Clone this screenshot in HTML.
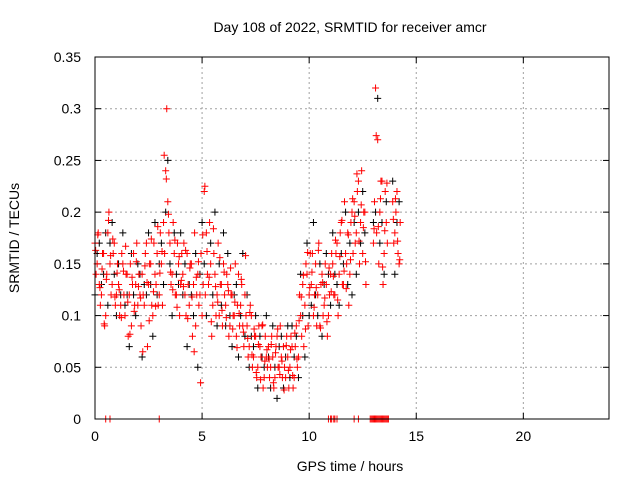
<!DOCTYPE html>
<html><head><meta charset="utf-8"><style>
body{margin:0;background:#fff}
svg{display:block;font-family:"Liberation Sans",sans-serif}
</style></head><body>
<svg id="chart" width="640" height="480">
<text x="350" y="32" font-size="14" text-anchor="middle">Day 108 of 2022, SRMTID for receiver amcr</text>
<text x="350" y="471" font-size="14" text-anchor="middle">GPS time / hours</text>
<text transform="translate(19,238) rotate(-90)" font-size="14" text-anchor="middle">SRMTID / TECUs</text>
<g id="grid"></g>
<g id="ticks"></g>
<g id="marks"></g>
<rect x="95" y="57" width="514" height="362" fill="none" stroke="#000" stroke-width="1"/>
</svg>
<script>
const times=[0.0,0.1,0.2,0.3,0.4,0.5,0.6,0.7,0.8,0.9,1.0,1.1,1.2,1.3,1.4,1.5,1.6,1.7,1.8,1.9,2.0,2.1,2.2,2.3,2.4,2.5,2.6,2.7,2.8,2.9,3.0,3.1,3.2,3.3,3.4,3.5,3.6,3.7,3.8,3.9,4.0,4.1,4.2,4.3,4.4,4.5,4.6,4.7,4.8,4.9,5.0,5.1,5.2,5.3,5.4,5.5,5.6,5.7,5.8,5.9,6.0,6.1,6.2,6.3,6.4,6.5,6.6,6.7,6.8,6.9,7.0,7.1,7.2,7.3,7.4,7.5,7.6,7.7,7.8,7.9,8.0,8.1,8.2,8.3,8.4,8.5,8.6,8.7,8.8,8.9,9.0,9.1,9.2,9.3,9.4,9.5,9.6,9.7,9.8,9.9,10.0,10.1,10.2,10.3,10.4,10.5,10.6,10.7,10.8,10.9,11.0,11.1,11.2,11.3,11.4,11.5,11.6,11.7,11.8,11.9,12.0,12.1,12.2,12.3,12.4,12.5,12.6,12.7,12.8,12.9,13.0,13.1,13.2,13.3,13.4,13.5,13.6,13.7,13.8,13.9,14.0,14.1,14.2];
const redA=[.17,.15,.13,.12,.16,.10,.18,.15,.13,.17,.12,
.13,.11,.15,.10,.14,.12,.09,.16,.13,.11,
.12,.14,.11,.17,.13,.15,.10,.14,.16,.12,
.15,.19,.24,.21,.17,.14,.16,.12,.15,.13,
.14,.12,.16,.11,.15,.13,.09,.14,.12,.10,
.22,.18,.13,.15,.11,.14,.12,.10,.13,.15,
.11,.13,.09,.12,.10,.08,.14,.11,.09,.12,
.09,.07,.10,.06,.08,.05,.07,.09,.04,.06,
.07,.05,.06,.04,.08,.05,.06,.07,.04,.06,
.05,.07,.04,.09,.06,.10,.13,.11,.14,.12,
.13,.10,.15,.12,.09,.14,.11,.13,.10,.14,
.15,.12,.17,.14,.19,.13,.16,.18,.14,.20,
.21,.18,.23,.19,.16,.20,null,null,null,.17,
.32,.27,.20,.23,.16,.19,null,null,.21,.18,.22,.15];
const redB=[.14,.18,.11,.16,.09,.14,.20,.12,.16,.11,.15,
.10,.16,.12,.14,.08,.15,.13,.11,.17,.14,
.09,.12,.16,.07,.15,.11,.17,.13,.11,.18,
.11,.16,.30,.18,.13,.19,.12,.17,.10,.16,
.17,.10,.13,.15,.08,.18,.12,.11,.16,.13,
.12,.14,.19,.08,.16,.10,.17,.13,.09,.12,
.14,.08,.12,.10,.15,.11,.09,.13,.07,.10,
.06,.11,.05,.08,.04,.09,.06,.03,.08,.05,
.04,.08,.03,.07,.05,.09,.04,.05,.08,.03,
.08,.03,.07,.05,.12,.08,.07,.15,.09,.16,
.16,.12,.09,.17,.13,.10,.15,.08,.12,.16,
.12,.16,.10,.18,.13,.21,.15,.11,.19,.16,
.17,.22,.15,.24,.20,.13,null,null,null,.21,
.18,.15,.23,.13,.22,.17,null,null,.17,.20,.16,.19];
const redD=[.163,.178,.127,.145,.092,.135,.192,.158,.174,.118,.141,
.125,.098,.143,.167,.113,.082,.137,.104,.152,.128,
.117,.065,.148,.132,.095,.174,.123,.109,.186,.141,
.162,.255,.232,.198,.142,.125,.173,.108,.157,.134,
.128,.163,.097,.146,.118,.065,.137,.152,.035,.178,
.225,.162,.137,.094,.184,.128,.113,.156,.105,.142,
.098,.124,.146,.087,.113,.069,.102,.135,.084,.158,
.078,.103,.062,.087,.045,.072,.038,.091,.056,.067,
.058,.072,.035,.064,.087,.043,.056,.028,.071,.047,
.067,.042,.083,.058,.095,.118,.139,.087,.161,.127,
.142,.108,.127,.163,.088,.132,.117,.094,.146,.123,
.138,.173,.115,.157,.192,.143,.126,.178,.154,.213,
.196,.237,.172,.207,.185,.152,null,null,null,.184,
.274,.186,.213,.147,.182,.228,null,null,.193,.213,.172,.154];
const blackC=[.12,.16,.17,.13,.14,.18,.11,.17,.19,.14,.10,
.15,.12,.18,.11,.12,.07,.16,.12,.10,.15,
.14,.06,.13,.12,.18,.13,.08,.19,.12,.15,
.17,.13,.20,.25,.15,.10,.18,.14,.13,.18,
.12,.15,.07,.13,.12,.10,.16,.05,.14,.19,
.15,.10,.13,.17,.12,.20,.09,.15,.11,.18,
.09,.16,.10,.07,.12,.13,.06,.10,.16,.08,
.12,.05,.08,.07,.10,.03,.08,.06,.05,.10,
.06,.03,.09,.05,.02,.07,.08,.03,.06,.09,
.04,.09,.06,.08,.04,.14,.10,.06,.17,.10,
.11,.19,.12,.10,.15,.08,.13,.16,.14,.11,
.18,.14,.13,.11,.16,.15,.20,.13,.17,.12,
.19,.14,.20,.17,.22,.18,null,null,null,.19,
.20,.31,.17,.19,.14,.21,null,null,.23,.14,.19,.21];
const zeroTimes=[0.5,0.7,3.0,10.9,11.0,11.05,11.15,11.2,11.3,12.1,12.3,12.85,12.9,12.95,13.0,13.05,13.1,13.15,13.2,13.25,13.3,13.35,13.4,13.45,13.5,13.55,13.6,13.65,13.7];
const xTicks=[0,5,10,15,20];
const yTicks=[0,0.05,0.1,0.15,0.2,0.25,0.3,0.35];
const yTickLabels=["0","0.05","0.1","0.15","0.2","0.25","0.3","0.35"];

const X0=95,X1=609,Y0=419,Y1=57;
const xs=t=>X0+t/24*(X1-X0);
const ys=v=>Y0-v/0.35*(Y0-Y1);
const NS='http://www.w3.org/2000/svg';
function mk(tag,parent){const e=document.createElementNS(NS,tag);parent.appendChild(e);return e;}
const grid=document.getElementById('grid'),ticks=document.getElementById('ticks'),marks=document.getElementById('marks');
xTicks.forEach(t=>{
  const x=xs(t);
  if(t>0){const g=mk('line',grid);g.setAttribute('x1',x);g.setAttribute('x2',x);g.setAttribute('y1',Y1);g.setAttribute('y2',Y0);g.setAttribute('stroke','#a0a0a0');g.setAttribute('stroke-dasharray','2,3');
  
  }
  const l=mk('text',ticks);l.textContent=t;l.setAttribute('x',x);l.setAttribute('y',Y0+22);l.setAttribute('font-size','14');l.setAttribute('text-anchor','middle');
  
  
  [[Y0,Y0-6],[Y1,Y1+6]].forEach(p=>{const k=mk('line',ticks);k.setAttribute('x1',x);k.setAttribute('x2',x);k.setAttribute('y1',p[0]);k.setAttribute('y2',p[1]);k.setAttribute('stroke','#000');
  
  });
});
yTicks.forEach((v,i)=>{
  const y=ys(v);
  if(v>0&&v<0.35){const g=mk('line',grid);g.setAttribute('x1',X0);g.setAttribute('x2',X1);g.setAttribute('y1',y);g.setAttribute('y2',y);g.setAttribute('stroke','#a0a0a0');g.setAttribute('stroke-dasharray','2,3');
  
  }
  const l=mk('text',ticks);l.textContent=yTickLabels[i];l.setAttribute('x',X0-14);l.setAttribute('y',y+5);l.setAttribute('font-size','14');l.setAttribute('text-anchor','end');
  
  
  [[X0,X0+6],[X1,X1-6]].forEach(p=>{const k=mk('line',ticks);k.setAttribute('x1',p[0]);k.setAttribute('x2',p[1]);k.setAttribute('y1',y);k.setAttribute('y2',y);k.setAttribute('stroke','#000');
  
  });
});
function plus(t,v,col,name){
  const x=xs(t),y=ys(v);
  const p=mk('path',marks);
  p.setAttribute('d',`M${x-3.5},${y}H${x+3.5}M${x},${y-3.5}V${y+3.5}`);
  p.setAttribute('stroke',col);p.setAttribute('stroke-width','1');
  
  
}
times.forEach((t,i)=>{if(blackC[i]!=null)plus(t,blackC[i],'#000','black-point');});
times.forEach((t,i)=>{
  if(redA[i]!=null)plus(t,redA[i],'#f00','red-point');
  if(redB[i]!=null)plus(t+0.05,redB[i],'#f00','red-point');
  if(redD[i]!=null)plus(t+0.03,redD[i],'#f00','red-point');
});
zeroTimes.forEach(t=>plus(t,0,'#f00','zero-point'));
</script>
</body></html>
